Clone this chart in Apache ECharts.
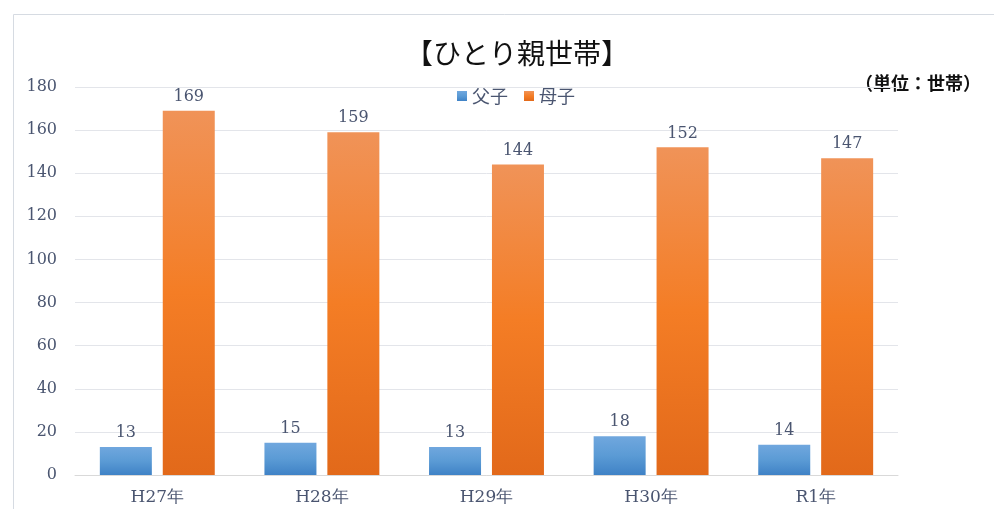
<!DOCTYPE html>
<html><head><meta charset="utf-8">
<script src="https://cdn.jsdelivr.net/npm/echarts@6/dist/echarts.min.js"></script>
<style>html,body{margin:0;padding:0;background:#fff}#c{width:994px;height:509px}</style>
</head><body><div id="c"></div>
<script>
const categories = ['H27年','H28年','H29年','H30年','R1年'];
const fushi = [13, 15, 13, 18, 14];
const boshi = [169, 159, 144, 152, 147];
const yTicks = [0, 20, 40, 60, 80, 100, 120, 140, 160, 180];

const serif = '"DejaVu Serif", "Liberation Serif", serif';
const txt = '#4a5570';
const chart = echarts.init(document.getElementById('c'));
chart.setOption({
  animation: false,
  backgroundColor: '#fff',
  graphic: [
    {type: 'rect', shape: {x: 13.5, y: 14.5, width: 1000, height: 520}, style: {fill: 'none', stroke: '#d6dbe2', lineWidth: 1}},
    {type: 'text', left: 855, top: 74, style: {text: '（単位：世帯）', fontFamily: '"Noto Sans CJK JP"', fontSize: 18, fontWeight: 'bold', fill: '#111'}},
    {type: 'text', left: 405, top: 39, style: {text: '【ひとり親世帯】', fontFamily: '"Noto Sans CJK JP"', fontSize: 28, fill: '#111'}}
  ],
  legend: {
    top: 82, left: 452, itemWidth: 10, itemHeight: 10, itemGap: 16,
    textStyle: {fontFamily: '"Noto Sans CJK JP"', fontSize: 18, color: txt},
    data: [{name: '父子', icon: 'rect'}, {name: '母子', icon: 'rect'}]
  },
  grid: {left: 75, right: 96, top: 87, bottom: 34},
  xAxis: {
    type: 'category', data: categories,
    axisLine: {lineStyle: {color: '#d9d9d9'}}, axisTick: {show: false},
    axisLabel: {fontFamily: serif, fontSize: 17, color: txt, margin: 14}
  },
  yAxis: {
    type: 'value', min: yTicks[0], max: yTicks[yTicks.length - 1], interval: 20,
    axisLine: {show: false}, axisTick: {show: false},
    splitLine: {lineStyle: {color: '#e3e5ea'}},
    axisLabel: {fontFamily: serif, fontSize: 16, color: txt, margin: 18}
  },
  series: [
    {
      name: '父子', type: 'bar', data: fushi, barWidth: 52, barGap: '21%',
      itemStyle: {color: new echarts.graphic.LinearGradient(0, 0, 0, 1, [
        {offset: 0, color: '#70a7de'}, {offset: 0.5, color: '#5b9bd5'}, {offset: 1, color: '#3f82c6'}])},
      label: {show: true, position: 'top', distance: 6, fontFamily: serif, fontSize: 16, color: txt}
    },
    {
      name: '母子', type: 'bar', data: boshi, barWidth: 52,
      itemStyle: {color: new echarts.graphic.LinearGradient(0, 0, 0, 1, [
        {offset: 0, color: '#f09358'}, {offset: 0.5, color: '#f47d25'}, {offset: 1, color: '#e2691a'}])},
      label: {show: true, position: 'top', distance: 6, fontFamily: serif, fontSize: 16, color: txt}
    }
  ]
});
</script></body></html>
